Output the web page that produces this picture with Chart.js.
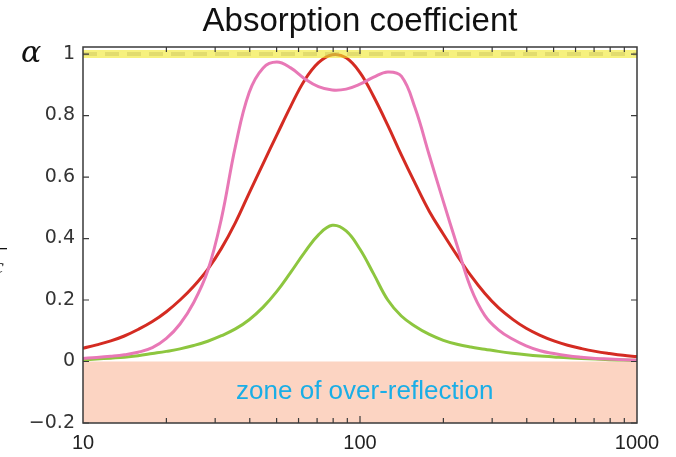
<!DOCTYPE html>
<html>
<head>
<meta charset="UTF-8">
<title>Absorption coefficient</title>
<script src="https://cdn.jsdelivr.net/npm/chart.js@4.4.1/dist/chart.umd.min.js"></script>
<style>
  body { margin: 0; background: #fff; }
</style>
</head>
<body>
<canvas id="chart" width="676" height="457"></canvas>
<script>
// frequency axis (log, 0.05 decade steps) and the three absorption curves
var freq = [10, 11.2, 12.6, 14.1, 15.8, 17.8, 20, 22.4, 25.1, 28.2, 31.6, 35.5, 39.8, 44.7, 50.1, 56.2,
            63.1, 70.8, 79.4, 89.1, 100, 112, 126, 141, 158, 178, 200, 224, 251, 282, 316, 355, 398,
            447, 501, 562, 631, 708, 794, 891, 1000];
var redAlpha = [0.043, 0.054, 0.067, 0.083, 0.104, 0.13, 0.162, 0.2, 0.245, 0.3, 0.368, 0.452, 0.548,
                0.644, 0.737, 0.83, 0.915, 0.972, 0.998, 0.988, 0.94, 0.862, 0.768, 0.672, 0.58, 0.488,
                0.414, 0.345, 0.28, 0.222, 0.175, 0.138, 0.108, 0.085, 0.067, 0.053, 0.042, 0.033,
                0.026, 0.02, 0.016];
var pinkAlpha = [0.01, 0.013, 0.017, 0.022, 0.03, 0.045, 0.075, 0.122, 0.192, 0.295, 0.465, 0.7, 0.875,
                 0.955, 0.974, 0.955, 0.92, 0.894, 0.883, 0.886, 0.902, 0.925, 0.942, 0.928, 0.825,
                 0.67, 0.52, 0.378, 0.24, 0.15, 0.103, 0.073, 0.051, 0.035, 0.026, 0.019, 0.014,
                 0.01, 0.008, 0.006, 0.005];
var greenAlpha = [0.005, 0.008, 0.011, 0.014, 0.019, 0.026, 0.033, 0.041, 0.052, 0.066, 0.084, 0.106,
                  0.136, 0.177, 0.228, 0.29, 0.355, 0.412, 0.443, 0.425, 0.365, 0.285, 0.2, 0.148, 0.115,
                  0.088, 0.069, 0.056, 0.047, 0.04, 0.033, 0.027, 0.022, 0.018, 0.015, 0.012, 0.01,
                  0.008, 0.006, 0.005, 0.004];

var perfectX = [10, 1000], perfectY = [1, 1];      // alpha = 1 line
var zoneX = [10, 1000], zoneY = [0, 0];             // over-reflection zone, alpha < 0

var xTicks = [10, 100, 1000];
var xMinor = [20, 30, 40, 50, 60, 70, 80, 90, 200, 300, 400, 500, 600, 700, 800, 900];
var yTicks = [-0.2, 0, 0.2, 0.4, 0.6, 0.8, 1];

function pts(xs, ys) {
  return xs.map(function(x, i) { return {x: x, y: ys[i]}; });
}

var curve = function(data, color, order) {
  return {
    data: data, borderColor: color, borderWidth: 3, pointRadius: 0,
    tension: 0.4, fill: false, order: order
  };
};

var decor = {
  id: 'decor',
  afterDatasetsDraw: function(chart) {
    var c = chart.ctx, a = chart.chartArea;
    var xs = chart.scales.x, ys = chart.scales.y;
    c.save();
    // zone label
    c.fillStyle = '#1aaee6';
    c.font = '26px "Liberation Sans", Arial, sans-serif';
    c.textAlign = 'center';
    c.textBaseline = 'middle';
    c.fillText('zone of over-reflection', xs.getPixelForValue(104), ys.getPixelForValue(-0.1));

    // frame
    c.strokeStyle = '#3a3a3a';
    c.lineWidth = 1.5;
    c.strokeRect(a.left, a.top, a.right - a.left, a.bottom - a.top);

    // inward ticks
    c.lineWidth = 1.2;
    c.beginPath();
    yTicks.forEach(function(v) {
      var y = ys.getPixelForValue(v);
      c.moveTo(a.left, y); c.lineTo(a.left + 6, y);
      c.moveTo(a.right, y); c.lineTo(a.right - 6, y);
    });
    xMinor.concat([100]).forEach(function(v) {
      var x = xs.getPixelForValue(v);
      var len = v === 100 ? 7 : 5;
      c.moveTo(x, a.top); c.lineTo(x, a.top + len);
      c.moveTo(x, a.bottom); c.lineTo(x, a.bottom - len);
    });
    c.stroke();

    // title and axis symbol
    c.fillStyle = '#111';
    c.font = '33px "Liberation Sans", Arial, sans-serif';
    c.textAlign = 'center';
    c.textBaseline = 'alphabetic';
    c.fillText('Absorption coefficient', (a.left + a.right) / 2, 31);

    c.font = 'italic 30px "DejaVu Serif", "Liberation Serif", serif';
    c.textAlign = 'left';
    c.fillText('\u03b1', 21, ys.getPixelForValue(1) + 8);

    // clipped fragment of an outer label at the far left
    c.font = 'italic 22px "Liberation Serif", serif';
    c.fillText('c', -6, 273);
    c.fillRect(0, 248, 7, 1.3);
    c.restore();
  }
};

var ctx = document.getElementById('chart').getContext('2d');
new Chart(ctx, {
  type: 'line',
  data: {
    datasets: [
      {
        data: pts(perfectX, perfectY), borderColor: 'rgba(240,232,40,0.6)', borderWidth: 8,
        pointRadius: 0, fill: false, order: 1
      },
      {
        data: pts(perfectX, perfectY), borderColor: 'rgba(190,180,80,0.35)', borderWidth: 4,
        borderDash: [14, 8], pointRadius: 0, fill: false, order: 0
      },
      curve(pts(freq, redAlpha), '#d42b22', 4),
      curve(pts(freq, pinkAlpha), '#e878b6', 3),
      curve(pts(freq, greenAlpha), '#8dc63f', 5),
      {
        data: pts(zoneX, zoneY), borderWidth: 0, pointRadius: 0,
        backgroundColor: '#fcd4c2', fill: 'start', order: 10
      }
    ]
  },
  options: {
    responsive: false,
    animation: false,
    layout: { padding: { top: 47, right: 39, left: 0, bottom: 0 } },
    plugins: { legend: { display: false }, tooltip: { enabled: false } },
    scales: {
      x: {
        type: 'logarithmic', min: 10, max: 1000,
        afterBuildTicks: function(s) { s.ticks = xTicks.map(function(v) { return {value: v}; }); },
        afterFit: function(s) { s.height = 34; },
        grid: { display: false, drawTicks: false },
        border: { display: false },
        ticks: {
          padding: 8, color: '#222', maxRotation: 0, autoSkip: false,
          font: { family: '"Liberation Sans", Arial, sans-serif', size: 20 },
          callback: function(v) { return String(v); }
        }
      },
      y: {
        min: -0.2, max: 1.023,
        afterBuildTicks: function(s) { s.ticks = yTicks.map(function(v) { return {value: v}; }); },
        afterFit: function(s) { s.width = 83; },
        grid: { display: false, drawTicks: false },
        border: { display: false },
        ticks: {
          padding: 8, color: '#333',
          font: { family: '"DejaVu Sans", sans-serif', size: 19 },
          callback: function(v) {
            if (v === 0 || v === 1) return String(v);
            return (v < 0 ? '\u2212' : '') + Math.abs(v).toFixed(1);
          }
        }
      }
    }
  },
  plugins: [decor]
});
</script>
</body>
</html>
